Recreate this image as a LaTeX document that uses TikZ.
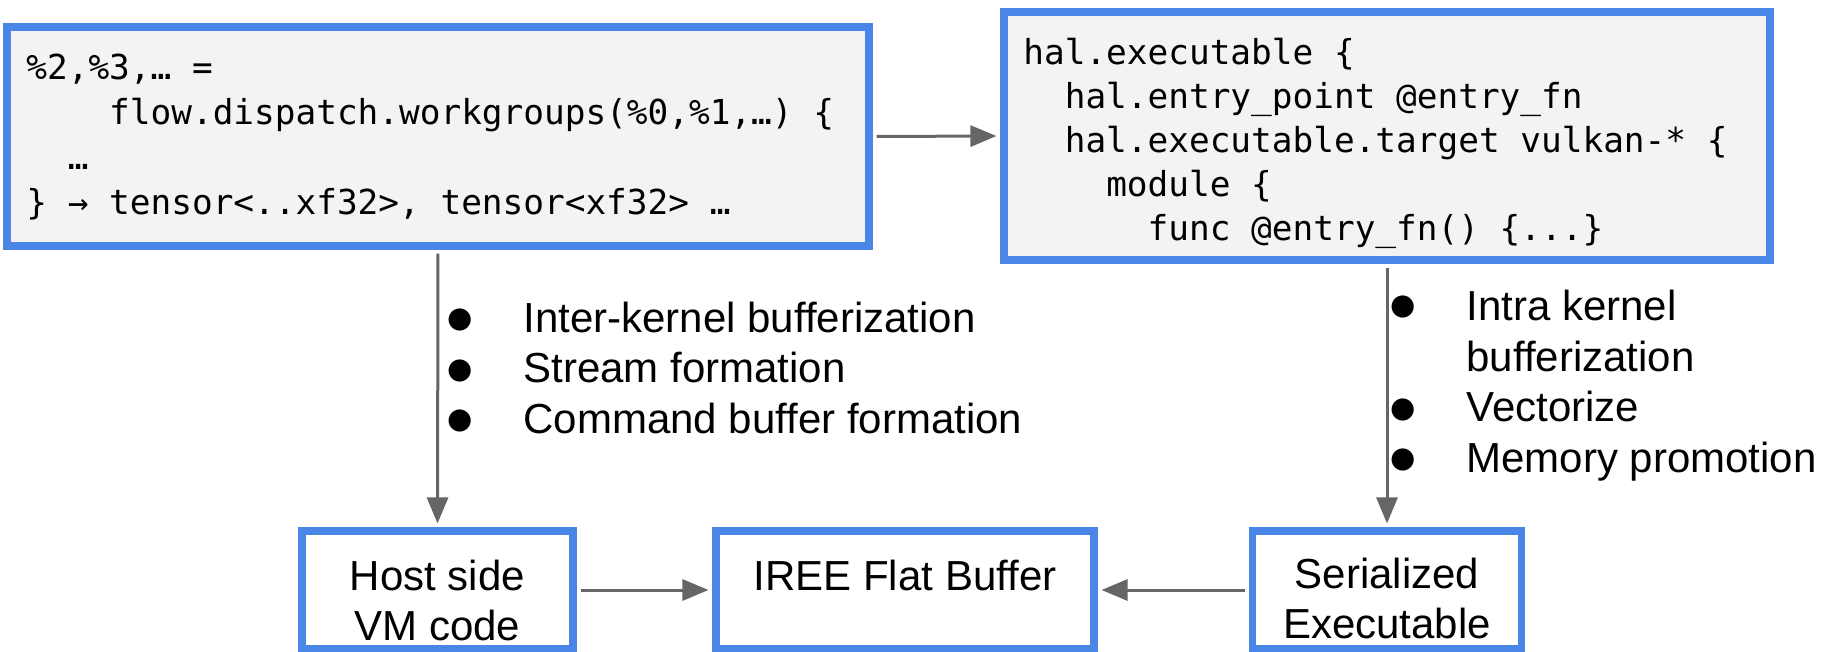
\documentclass[tikz,border=0pt]{standalone}
\usepackage{fontspec}
\setmainfont{Liberation Sans}
\setmonofont{DejaVu Sans Mono}
\newfontfamily\symfont{DejaVu Sans}
\usetikzlibrary{arrows.meta}
\usepackage{xcolor}
\definecolor{SlideBlue}{HTML}{4A86E8}
\definecolor{CodeGray}{HTML}{F3F3F3}
\definecolor{ArrowGray}{HTML}{666666}

\tikzset{
  codebox/.style = {rectangle, draw=SlideBlue, line width=3.75pt, fill=CodeGray, inner sep=0pt},
  stagebox/.style = {rectangle, draw=SlideBlue, line width=3.75pt, fill=white, inner sep=0pt},
  code/.style = {anchor=base west, align=left, inner sep=0pt, font=\ttfamily\fontsize{17.2}{22.5}\selectfont},
  passlist/.style = {anchor=base west, align=left, inner sep=0pt, font=\fontsize{21}{25.5}\selectfont},
  stagetext/.style = {anchor=base, align=center, inner sep=0pt, font=\fontsize{21}{25}\selectfont},
  flow/.style = {draw=ArrowGray, line width=1.5pt, shorten <=1.9pt, shorten >=1.9pt, -{Triangle[length=13pt,width=10.5pt]}}
}
\def\blt{\makebox[38pt][l]{\raisebox{2.5pt}{\symfont\fontsize{14.5}{14.5}\selectfont ●}}}
\def\ind{\hspace*{38pt}}

\begin{document}
\begin{tikzpicture}[x=0.5pt, y=-0.5pt]
\useasboundingbox (0,0) rectangle (1833,652);

% Dispatch region (base = last line)
\node[codebox, minimum width=431pt, minimum height=109.5pt] (flowbox) at (438,136.5) {};
\node[code] (flowcode) at (26,215) {\%2,\%3,… =\\
\hphantom{0000}flow.dispatch.workgroups(\%0,\%1,…) \{\\
\hphantom{00}…\\
\} → tensor<..xf32>, tensor<xf32> …};

% Executable
\node[codebox, minimum width=383pt, minimum height=124pt] (halbox) at (1387,136) {};
\node[code, font=\ttfamily\fontsize{17.2}{22}\selectfont] (halcode) at (1023,241) {hal.executable \{\\
\hphantom{00}hal.entry\_point @entry\_fn\\
\hphantom{00}hal.executable.target vulkan-* \{\\
\hphantom{0000}module \{\\
\hphantom{000000}func @entry\_fn() \{...\}};

% Passes
\node[passlist] (hostpasses) at (447,434) {\blt Inter-kernel bufferization\\
\blt Stream formation\\
\blt Command buffer formation};
\node[passlist] (devpasses) at (1390,473) {\blt Intra kernel\\
\ind bufferization\\
\blt Vectorize\\
\blt Memory promotion};

% Bottom row
\node[stagebox, minimum width=135.5pt, minimum height=59pt] (host) at (437.5,590) {};
\node[stagebox, minimum width=189pt, minimum height=59pt] (iree) at (905,590) {};
\node[stagebox, minimum width=134.5pt, minimum height=59pt] (serial) at (1387,590) {};

\node[stagetext] (hostlbl) at (437.5,640) {Host side\\VM code};
\node[stagetext] (ireelbl) at (905,590) {IREE Flat Buffer};
\node[stagetext] (seriallbl) at (1387,638) {Serialized\\Executable};

\draw[flow] (flowbox.east) -- (halbox.west);
\draw[flow] (flowbox.south) -- (host.north);
\draw[flow] (halbox.south) -- (serial.north);
\draw[flow] (host.east) -- (iree.west);
\draw[flow] (serial.west) -- (iree.east);

\end{tikzpicture}
\end{document}
